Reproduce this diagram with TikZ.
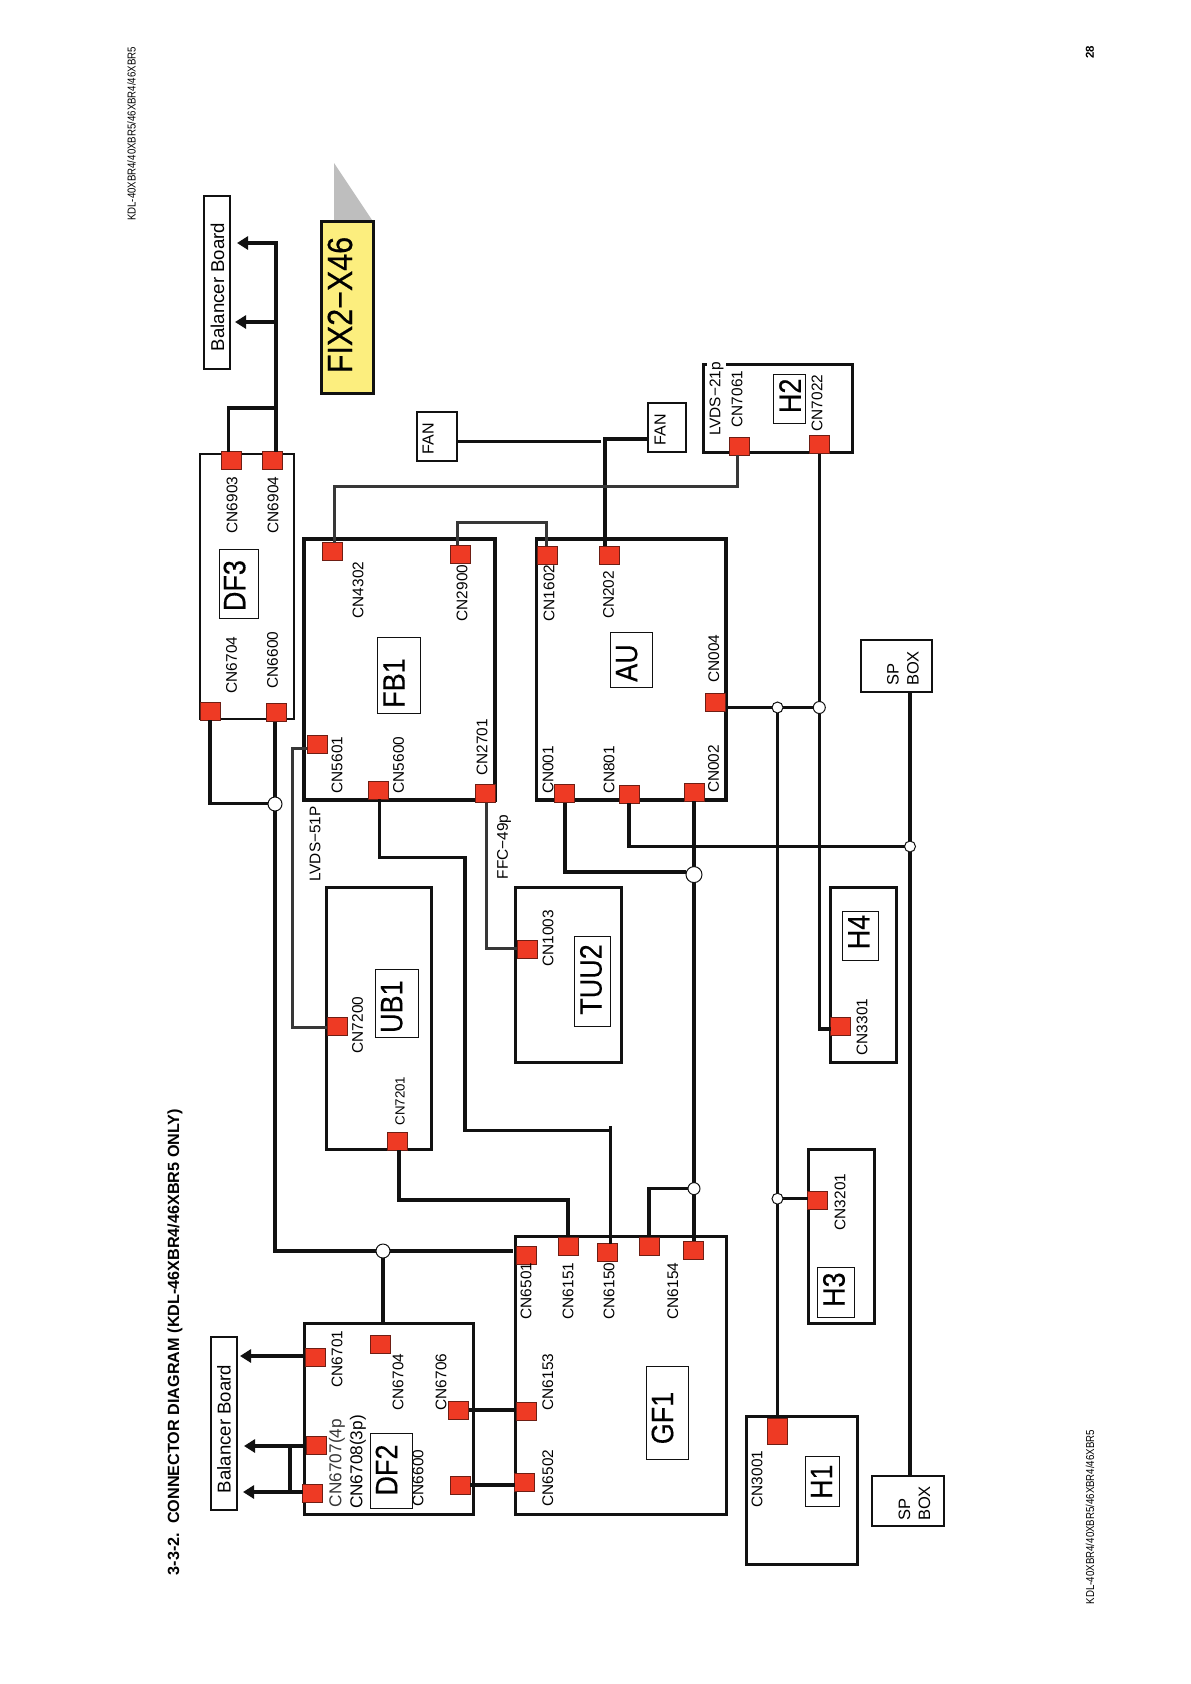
\documentclass[tikz,border=0pt]{standalone}
\usepackage{fontspec}
\usepackage{tikz}
\usetikzlibrary{arrows.meta}
\setmainfont{Liberation Sans}
\newfontfamily\narrowfont[FakeStretch=0.84]{Liberation Sans}
\newfontfamily\namefont[FakeStretch=0.87,FakeBold=0.3]{Liberation Sans}
\newfontfamily\fixfont[FakeStretch=0.87,FakeBold=0.4]{Liberation Sans}
\definecolor{connred}{RGB}{238,58,36}
\definecolor{connedge}{RGB}{110,30,20}
\definecolor{darkline}{RGB}{17,17,17}
\definecolor{grayline}{RGB}{55,55,55}
\definecolor{noteyellow}{RGB}{252,238,126}
\definecolor{shadegray}{RGB}{190,190,190}
\tikzset{
  board/.style={draw=darkline, line width=3pt, inner sep=0pt, outer sep=0pt},
  bigboard/.style={board, line width=3.6pt},
  thinboard/.style={board, line width=2.5pt},
  namebox/.style={draw=darkline, line width=0.9pt, inner sep=0pt, outer sep=0pt},
  nametext/.style={rotate=90, inner sep=0pt, font=\namefont\fontsize{31}{34}\selectfont},
  conn/.style={fill=connred, draw=connedge, line width=0.6pt, minimum width=20pt, minimum height=18pt,
    inner sep=0pt, outer sep=0pt},
  cnlabel/.style={rotate=90, inner sep=0pt, font=\fontsize{15.4}{18}\selectfont},
  joint/.style={circle, fill=white, draw=darkline, line width=1pt, inner sep=0pt, outer sep=0pt},
  wire/.style={draw=darkline, line width=3.3pt},
  graywire/.style={draw=grayline, line width=3pt},
  arrow/.style={wire, -{Triangle[length=11pt,width=13pt]}}
}
\begin{document}
\begin{tikzpicture}[x=1pt,y=-1pt]
        \useasboundingbox (0,0) rectangle (1191,1684);
        \node[cnlabel, font=\narrowfont\fontsize{11.5}{14}\selectfont] (headtop) at (131.5,134) {KDL-40XBR4/40XBR5/46XBR4/46XBR5};
        \node[cnlabel, font=\narrowfont\fontsize{11.5}{14}\selectfont] (headbottom) at (1090,1517) {KDL-40XBR4/40XBR5/46XBR4/46XBR5};
        \node[cnlabel, font=\bfseries\fontsize{11.5}{14}\selectfont] (pagenum) at (1090,52) {28};
        \node[cnlabel, font=\bfseries\fontsize{16.2}{18}\selectfont] (title) at (175,1342) {3-3-2.\ \ CONNECTOR DIAGRAM (KDL-46XBR4/46XBR5 ONLY)};

        \fill[shadegray] (334,163) -- (334,220) -- (372,220) -- cycle;
        \node[board, fill=noteyellow, minimum width=52pt, minimum height=172pt] (fixbox) at (347,307) {};
        \node[cnlabel, font=\fixfont\fontsize{35}{38}\selectfont] (fixname) at (340,305) {FIX2−X46};

        \node[thinboard, minimum width=26pt, minimum height=173pt] (baltop) at (217,282.5) {};
        \node[cnlabel, font=\fontsize{18.6}{20}\selectfont] (baltoptext) at (217.5,287) {Balancer Board};
        \node[thinboard, minimum width=26pt, minimum height=173pt] (balbot) at (224,1423.5) {};
        \node[cnlabel, font=\fontsize{18.6}{20}\selectfont] (balbottext) at (224,1429) {Balancer Board};
        \node[thinboard, minimum width=40pt, minimum height=49pt] (fanleft) at (437,436.5) {};
        \node[cnlabel, font=\fontsize{16}{18}\selectfont] (fanlefttext) at (428,439) {FAN};
        \node[thinboard, minimum width=38pt, minimum height=49pt] (fanright) at (667,427.5) {};
        \node[cnlabel, font=\fontsize{16}{18}\selectfont] (fanrighttext) at (660,429.5) {FAN};
        \node[thinboard, minimum width=71pt, minimum height=52pt] (sptop) at (896.5,666) {};
        \node[cnlabel, align=left, font=\fontsize{16.5}{20}\selectfont] (sptoptext) at (903,668.5) {SP\\BOX};
        \node[thinboard, minimum width=72pt, minimum height=50pt] (spbot) at (908,1501) {};
        \node[cnlabel, align=left, font=\fontsize{16.5}{20}\selectfont] (spbottext) at (914.5,1503.5) {SP\\BOX};

        \node[thinboard, minimum width=94pt, minimum height=265pt] (df3) at (247,586.5) {};
        \node[bigboard, minimum width=191pt, minimum height=261pt] (fb1) at (399.5,669.5) {};
        \node[bigboard, minimum width=189.5pt, minimum height=261pt] (au) at (631.25,669.5) {};
        \node[board, minimum width=149pt, minimum height=88pt] (h2) at (777.5,408) {};
        \node[board, minimum width=105pt, minimum height=262pt] (ub1) at (378.5,1018) {};
        \node[board, minimum width=106pt, minimum height=175pt] (tuu2) at (568,974.5) {};
        \node[board, minimum width=66pt, minimum height=175pt] (h4) at (863,974.5) {};
        \node[board, minimum width=66pt, minimum height=174pt] (h3) at (841,1236) {};
        \node[board, minimum width=211pt, minimum height=278pt] (gf1) at (620.5,1375) {};
        \node[board, minimum width=169pt, minimum height=191pt] (df2) at (388.5,1418.5) {};
        \node[board, minimum width=111pt, minimum height=148pt] (h1) at (801.5,1490) {};

        \node[namebox, minimum width=39pt, minimum height=69pt] (df3box) at (238.5,583.5) {};
        \node[nametext] (df3name) at (234.6,585.6) {DF3};
        \node[namebox, minimum width=43pt, minimum height=76pt] (fb1box) at (398.75,675) {};
        \node[nametext] (fb1name) at (394,683) {FB1};
        \node[namebox, minimum width=42pt, minimum height=55pt] (aubox) at (631,659.5) {};
        \node[nametext] (auname) at (626.7,663) {AU};
        \node[namebox, minimum width=32pt, minimum height=49pt] (h2box) at (789,398.5) {};
        \node[nametext] (h2name) at (790,395.8) {H2};
        \node[namebox, minimum width=43pt, minimum height=68pt] (ub1box) at (396.5,1003) {};
        \node[nametext] (ub1name) at (391.8,1006.6) {UB1};
        \node[namebox, minimum width=36pt, minimum height=90pt] (tuu2box) at (592,981) {};
        \node[nametext] (tuu2name) at (591,979.5) {TUU2};
        \node[namebox, minimum width=36pt, minimum height=49pt] (h4box) at (860,935.5) {};
        \node[nametext] (h4name) at (858.8,932) {H4};
        \node[namebox, minimum width=37pt, minimum height=50pt] (h3box) at (835.5,1292) {};
        \node[nametext] (h3name) at (834,1289.7) {H3};
        \node[namebox, minimum width=42pt, minimum height=93pt] (gf1box) at (667,1412.5) {};
        \node[nametext] (gf1name) at (662.5,1418) {GF1};
        \node[namebox, minimum width=42pt, minimum height=75pt] (df2box) at (391,1470.5) {};
        \node[nametext] (df2name) at (386.5,1470) {DF2};
        \node[namebox, minimum width=34pt, minimum height=50pt] (h1box) at (822,1481) {};
        \node[nametext] (h1name) at (821.5,1481.7) {H1};

        \node[conn] (df3cn6903) at (231,460.5) {};
        \node[conn] (df3cn6904) at (272.5,460.5) {};
        \node[conn] (df3cn6704) at (210.5,711) {};
        \node[conn] (df3cn6600) at (276.5,712.5) {};
        \node[conn] (fbcn4302) at (332.5,551.5) {};
        \node[conn] (fbcn2900) at (460.5,554) {};
        \node[conn] (fbcn5601) at (317,744) {};
        \node[conn] (fbcn5600) at (378,790) {};
        \node[conn] (fbcn2701) at (485,793.75) {};
        \node[conn] (aucn1602) at (547.5,555) {};
        \node[conn] (aucn202) at (609.5,555) {};
        \node[conn] (aucn004) at (715.5,702.5) {};
        \node[conn] (aucn001) at (564.5,793.75) {};
        \node[conn] (aucn801) at (629,794) {};
        \node[conn] (aucn002) at (694,792) {};
        \node[cnlabel, fill=white, inner ysep=3pt] (tlvds21) at (716.5,399) {LVDS−21p};
        \node[conn] (h2cn7061) at (739,446) {};
        \node[conn] (h2cn7022) at (819.5,444.5) {};
        \node[conn] (h4cn3301) at (840.5,1026) {};
        \node[conn] (h3cn3201) at (817.5,1200.5) {};
        \node[conn, minimum height=26pt] (h1cn3001) at (777,1431) {};
        \node[conn] (ubcn7200) at (337,1026.5) {};
        \node[conn] (ubcn7201) at (397,1141) {};
        \node[conn] (tucn1003) at (527,949) {};
        \node[conn] (gfcn6501) at (526,1255) {};
        \node[conn] (gfcn6151) at (568,1246) {};
        \node[conn] (gfcn6150) at (607,1252.5) {};
        \node[conn] (gfcnextra) at (649.5,1246) {};
        \node[conn] (gfcn6154) at (693.5,1250) {};
        \node[conn] (gfcn6153) at (526,1411) {};
        \node[conn] (gfcn6502) at (524.5,1482.5) {};
        \node[conn] (df2cn6701) at (315,1357) {};
        \node[conn] (df2cn6707) at (316,1445) {};
        \node[conn] (df2cn6708) at (312.5,1493) {};
        \node[conn] (df2cn6704) at (380,1344) {};
        \node[conn] (df2cn6706) at (458.5,1410) {};
        \node[conn] (df2cn6600) at (460,1485) {};

        \node[cnlabel] (t6903) at (232,505) {CN6903};
        \node[cnlabel] (t6904) at (273,505) {CN6904};
        \node[cnlabel] (t6704a) at (231.5,665) {CN6704};
        \node[cnlabel] (t6600a) at (272.5,660) {CN6600};
        \node[cnlabel] (t4302) at (358,590) {CN4302};
        \node[cnlabel] (t2900) at (462,593) {CN2900};
        \node[cnlabel] (t1602) at (549,593) {CN1602};
        \node[cnlabel] (t202) at (608.5,595) {CN202};
        \node[cnlabel] (t004) at (713.7,658.5) {CN004};
        \node[cnlabel] (t7061) at (737,399) {CN7061};
        \node[cnlabel] (t7022) at (817,403) {CN7022};
        \node[cnlabel] (t5601) at (337,765) {CN5601};
        \node[cnlabel] (t5600) at (398.6,765) {CN5600};
        \node[cnlabel] (t2701) at (482,747.5) {CN2701};
        \node[cnlabel] (t001) at (548,770) {CN001};
        \node[cnlabel] (t801) at (609,770) {CN801};
        \node[cnlabel] (t002) at (713.6,769) {CN002};
        \node[cnlabel] (tlvds51) at (315,844) {LVDS−51P};
        \node[cnlabel] (tffc) at (504,847) {FFC−49p};
        \node[cnlabel] (t7200) at (357.5,1025) {CN7200};
        \node[cnlabel, font=\fontsize{13.3}{16}\selectfont] (t7201) at (400,1101) {CN7201};
        \node[cnlabel] (t1003) at (548,938.5) {CN1003};
        \node[cnlabel] (t3301) at (862,1027) {CN3301};
        \node[cnlabel] (t3201) at (840,1202) {CN3201};
        \node[cnlabel] (t3001) at (757,1479) {CN3001};
        \node[cnlabel] (t6501) at (526,1291) {CN6501};
        \node[cnlabel] (t6151) at (568,1291) {CN6151};
        \node[cnlabel] (t6150) at (609,1291) {CN6150};
        \node[cnlabel] (t6154) at (672.7,1291) {CN6154};
        \node[cnlabel] (t6153) at (547.7,1382) {CN6153};
        \node[cnlabel] (t6502) at (547.7,1478) {CN6502};
        \node[cnlabel] (t6701) at (337,1359) {CN6701};
        \node[cnlabel] (t6704b) at (398,1382) {CN6704};
        \node[cnlabel] (t6706) at (441,1382) {CN6706};
        \node[cnlabel, font=\fontsize{17.2}{18}\selectfont, text=grayline] (t6707) at (337,1463) {CN6707(4p};
        \node[cnlabel, font=\fontsize{17.2}{18}\selectfont] (t6708) at (358,1462) {CN6708(3p)};
        \node[cnlabel] (t6600b) at (418,1478) {CN6600};

        \node[joint, minimum size=14pt] (jdf3) at (275,804) {};
        \node[joint, minimum size=14pt] (jdf2) at (383,1251) {};
        \node[joint, minimum size=16pt] (jau) at (694,874.6) {};
        \node[joint, minimum size=12pt] (jgf) at (694,1188.6) {};
        \node[joint, minimum size=11pt] (jh1) at (777.5,707.5) {};
        \node[joint, minimum size=12pt] (jh4) at (819.3,707.5) {};
        \node[joint, minimum size=11pt] (jh3) at (777.5,1198.7) {};
        \node[joint, minimum size=11pt] (jsp) at (910,846.5) {};

        \coordinate (baltipa) at (237,243);
        \coordinate (baltipb) at (235,322);
        \coordinate (balcorner) at (276,243);
        \coordinate (baljog) at (228.5,408);
        \draw[arrow] (balcorner |- df3cn6904.north) -- (balcorner) -- (baltipa);
        \draw[arrow] (balcorner |- baltipb) -- (baltipb);
        \draw[wire] (baljog |- df3cn6903.north) -- (baljog) -- (balcorner |- baljog);

        \coordinate (fanend) at (601,441.5);
        \coordinate (fanjog) at (605,439);
        \draw[wire] (fanleft.east |- fanend) -- (fanend);
        \draw[wire] (fanright.west |- fanjog) -- (fanjog) -- (fanjog |- aucn202.north);

        \coordinate (lvdsa) at (334,486.7);
        \coordinate (lvdsb) at (737,486.7);
        \draw[graywire] (lvdsa |- fbcn4302.north) -- (lvdsa) -- (lvdsb) -- (lvdsb |- h2cn7061.south);
        \coordinate (linka) at (457,522);
        \coordinate (linkb) at (546,522);
        \draw[graywire] (linka |- fbcn2900.north) -- (linka) -- (linkb) -- (linkb |- aucn1602.north);
        \coordinate (lvdsc) at (292,748);
        \coordinate (lvdsd) at (292,1027);
        \draw[graywire] (fbcn5601.west |- lvdsc) -- (lvdsc) -- (lvdsd) -- (ubcn7200.west |- lvdsd);
        \coordinate (ffca) at (486,948.6);
        \draw[graywire] (ffca |- fbcn2701.south) -- (ffca) -- (tucn1003.west |- ffca);

        \coordinate (usba) at (379.6,857.5);
        \coordinate (usbb) at (465,857.5);
        \coordinate (usbc) at (465,1130.7);
        \coordinate (usbd) at (610.7,1130.7);
        \coordinate (usbe) at (610.7,1126);
        \draw[wire] (usba |- fbcn5600.south) -- (usba) -- (usbb) -- (usbc) -- (usbd);
        \draw[wire] (usbe) -- (usbe |- gfcn6150.north);
        \coordinate (uba) at (399,1200);
        \coordinate (ubb) at (568,1200);
        \draw[wire] (uba |- ubcn7201.south) -- (uba) -- (ubb) -- (ubb |- gfcn6151.north);

        \coordinate (aua) at (565,872);
        \draw[wire] (aua |- aucn001.south) -- (aua) -- (jau.west |- aua);
        \draw[wire] (jau.north |- aucn002.south) -- (jau.north);
        \draw[wire] (jau.south) -- (jgf.north);
        \draw[wire] (jgf.south) -- (jgf.south |- gfcn6154.north);
        \coordinate (gfa) at (649,1188.6);
        \draw[wire] (jgf.west) -- (gfa) -- (gfa |- gfcnextra.north);
        \coordinate (spa) at (629,846.5);
        \draw[wire] (spa |- aucn801.south) -- (spa) -- (jsp.west);
        \draw[wire] (jsp.north |- sptop.south) -- (jsp.north);
        \draw[wire] (jsp.south) -- (jsp.south |- spbot.north);

        \draw[wire] (aucn004.east |- jh1) -- (jh1.west);
        \draw[wire] (jh1.east) -- (jh4.west);
        \draw[wire] (jh1.south) -- (jh3.north);
        \draw[wire] (jh3.south) -- (jh3.south |- h1cn3001.north);
        \draw[wire] (jh3.east) -- (h3cn3201.west |- jh3);
        \coordinate (h4a) at (819.3,1029);
        \draw[wire] (jh4.north |- h2cn7022.south) -- (jh4.north);
        \draw[wire] (jh4.south) -- (h4a) -- (h4cn3301.west |- h4a);

        \coordinate (dfa) at (210,803.5);
        \coordinate (dfb) at (275,1251);
        \coordinate (dfc) at (512.5,1251);
        \draw[wire] (dfa |- df3cn6704.south) -- (dfa) -- (jdf3.west |- dfa);
        \draw[wire] (jdf3.north |- df3cn6600.south) -- (jdf3.north);
        \draw[wire] (jdf3.south) -- (dfb) -- (jdf2.west);
        \draw[wire] (jdf2.east) -- (dfc);
        \draw[wire] (jdf2.south) -- (jdf2.south |- df2.north);

        \coordinate (baltipc) at (240,1356);
        \coordinate (baltipd) at (244,1446);
        \coordinate (baltipe) at (243,1492);
        \coordinate (dfjog) at (290,1446);
        \draw[arrow] (df2cn6701.west |- baltipc) -- (baltipc);
        \draw[arrow] (df2cn6707.west |- baltipd) -- (baltipd);
        \draw[arrow] (df2cn6708.west |- baltipe) -- (baltipe);
        \draw[wire] (dfjog) -- (dfjog |- baltipe);
        \draw[wire] (df2cn6706.east) -- (df2cn6706.east -| gfcn6153.west);
        \draw[wire] (df2cn6600.east) -- (df2cn6600.east -| gfcn6502.west);
      \end{tikzpicture}
\end{document}
